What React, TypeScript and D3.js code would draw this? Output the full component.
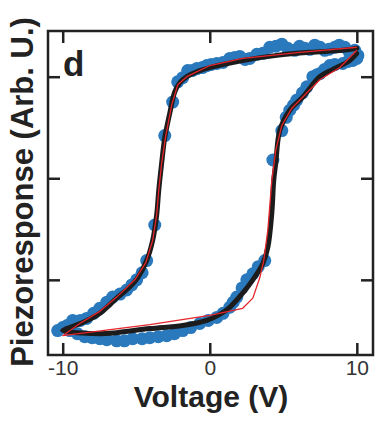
import React, { useEffect, useRef } from 'react';
import { select, scaleLinear, line, curveCatmullRom, curveLinear, axisBottom, axisTop, axisLeft, axisRight } from 'd3';

// fitted loop (black), descending then ascending branch
const fitVoltage = [10.0, 9.05, 6.8, 4.56, 2.24, 0, -0.68, -1.56, -2.04, -2.38, -2.72, -3.06, -3.27, -3.47, -3.61, -3.88, -4.29, -4.9, -5.44, -6.33, -7.48, -8.64, -9.73, -10,
  -7.48, -6.33, -4.08, -1.84, -0.2, 0.68, 1.36, 2.24, 2.93, 3.61, 3.95, 4.22, 4.35, 4.49, 4.76, 5.44, 6.33, 7.48, 8.64, 9.52, 10.0]
const fitResponse = [1.28, 1.26, 1.24, 1.21, 1.16, 1.09, 1.06, 1.0, 0.94, 0.85, 0.64, 0.4, 0.15, -0.12, -0.36, -0.61, -0.81, -0.98, -1.07, -1.18, -1.33, -1.42, -1.48, -1.5,
  -1.53, -1.52, -1.48, -1.45, -1.4, -1.34, -1.27, -1.13, -1.0, -0.84, -0.68, -0.34, -0.02, 0.15, 0.47, 0.67, 0.8, 1.0, 1.09, 1.16, 1.23]

// model loop (red)
const modelVoltage = [10.0, 6.12, 2.24, 0, -1.56, -2.18, -2.59, -2.99, -3.27, -3.47, -3.61, -3.88, -4.35, -5.1, -6.33, -7.48, -8.84, -10,
  -4.08, 0, 2.24, 2.93, 3.4, 3.67, 3.95, 4.22, 4.49, 4.9, 5.58, 6.46, 7.48, 8.84, 10.0]
const modelResponse = [1.29, 1.24, 1.18, 1.11, 1.0, 0.92, 0.72, 0.42, 0.15, -0.12, -0.36, -0.61, -0.83, -1.0, -1.17, -1.31, -1.43, -1.55,
  -1.44, -1.35, -1.28, -1.18, -0.98, -0.81, -0.51, -0.02, 0.28, 0.52, 0.69, 0.82, 0.97, 1.09, 1.26]

// measured points (blue)
const measVoltage = [10.07, 9.86, 9.5, 9.18, 8.8, 8.5, 8.1, 7.82, 7.5, 7.14, 6.8, 6.46, 6.1, 5.78, 5.3, 4.9, 4.5, 4.08, 3.61, 3.2, 2.72, 2.4, 2.04, 1.7, 1.36, 0.9, 0.48, 0.1, -0.2, -0.5, -0.88, -1.2, -1.5, -1.84, -2.18, -2.52, -3.06,
  -3.74, -4.29, -4.6, -4.97, -5.3, -5.65, -6.1, -6.6, -7.0, -7.48, -7.9, -8.37, -8.8, -9.32, -9.7, -10.0, -10.34,
  -9.52, -9.0, -8.5, -8.0, -7.48, -7.0, -6.33, -5.8, -5.24, -4.6, -4.08, -3.5, -2.93, -2.4, -1.84, -1.3, -0.68, -0.1, 0.48, 0.9, 1.36, 1.6, 1.84, 2.2, 2.52, 2.93, 3.3, 3.74,
  4.29, 4.9, 5.2, 5.44, 5.7, 5.92, 6.3, 6.6, 7.01, 7.3, 7.48, 7.8, 8.16, 8.5, 9.05, 9.4, 9.73, 10.0]
const measResponse = [1.21, 1.26, 1.24, 1.29, 1.31, 1.29, 1.27, 1.26, 1.29, 1.31, 1.27, 1.28, 1.3, 1.26, 1.28, 1.32, 1.3, 1.29, 1.23, 1.22, 1.18, 1.17, 1.2, 1.19, 1.18, 1.14, 1.13, 1.12, 1.11, 1.09, 1.08, 1.06, 1.06, 0.99, 0.95, 0.75, 0.42,
  -0.46, -0.81, -0.93, -1.0, -1.05, -1.1, -1.14, -1.17, -1.22, -1.28, -1.33, -1.38, -1.4, -1.4, -1.45, -1.47, -1.5,
  -1.5, -1.53, -1.56, -1.57, -1.58, -1.59, -1.6, -1.6, -1.58, -1.58, -1.57, -1.56, -1.55, -1.53, -1.5, -1.47, -1.43, -1.4, -1.37, -1.33, -1.27, -1.22, -1.17, -1.08, -1.0, -0.94, -0.87, -0.81,
  0.18, 0.47, 0.6, 0.67, 0.72, 0.77, 0.84, 0.9, 1.0, 1.02, 1.03, 1.07, 1.11, 1.12, 1.13, 1.15, 1.16, 1.18]

const xTicks = [-10, 0, 10]
const yTicks = [-1, 0, 1]

const dims = { width: 388, height: 422, left: 48, right: 373, top: 31, bottom: 355 }
const font = '"Liberation Sans", Arial, Helvetica, sans-serif'
const ink = '#222'

function App() {
  const axesRef = useRef<SVGGElement | null>(null)

  const x = scaleLinear().domain([-11, 11.1]).range([dims.left, dims.right])
  const y = scaleLinear().domain([-1.74, 1.45]).range([dims.bottom, dims.top])

  const pts = (vs: number[], rs: number[]) => vs.map((v, i) => [v, rs[i]] as [number, number])
  const fitLine = line<[number, number]>().x(d => x(d[0])).y(d => y(d[1])).curve(curveCatmullRom.alpha(0.5))
  const modelLine = line<[number, number]>().x(d => x(d[0])).y(d => y(d[1])).curve(curveLinear)

  useEffect(() => {
    const g = select(axesRef.current)
    g.selectAll('*').remove()
    const style = (a: any) => {
      a.select('.domain').remove()
      a.selectAll('line').attr('stroke', ink).attr('stroke-width', 2.5)
      a.selectAll('text').attr('font-family', font).attr('font-size', 21).attr('fill', '#333')
    }
    g.append('g').attr('transform', `translate(0,${dims.bottom})`)
      .call(axisBottom(x).tickValues(xTicks).tickSizeInner(-12).tickSizeOuter(0).tickPadding(5).tickFormat(d => `${d}`))
      .call(style)
    g.append('g').attr('transform', `translate(0,${dims.top})`)
      .call(axisTop(x).tickValues(xTicks).tickSizeInner(-12).tickSizeOuter(0).tickFormat(() => ''))
      .call(style)
    g.append('g').attr('transform', `translate(${dims.left},0)`)
      .call(axisLeft(y).tickValues(yTicks).tickSizeInner(-12).tickSizeOuter(0).tickFormat(() => ''))
      .call(style)
    g.append('g').attr('transform', `translate(${dims.right},0)`)
      .call(axisRight(y).tickValues(yTicks).tickSizeInner(-12).tickSizeOuter(0).tickFormat(() => ''))
      .call(style)
  }, [])

  return (
    <svg width={dims.width} height={dims.height} style={{ position: 'absolute', left: 0, top: 0, background: '#fff' }}>
      <g>
        {pts(measVoltage, measResponse).map((d, i) => (
          <circle key={i} cx={x(d[0])} cy={y(d[1])} r={6.5} fill="#2a79bd" />
        ))}
      </g>
      <path d={fitLine(pts(fitVoltage, fitResponse)) ?? ''} fill="none" stroke="#1c1c1c" strokeWidth={5} strokeLinejoin="round" strokeLinecap="round" />
      <path d={modelLine(pts(modelVoltage, modelResponse)) ?? ''} fill="none" stroke="#e5252b" strokeWidth={1.3} strokeLinejoin="round" />
      <rect x={dims.left} y={dims.top} width={dims.right - dims.left} height={dims.bottom - dims.top} fill="none" stroke={ink} strokeWidth={2.5} />
      <g ref={axesRef} />
      <text x={63} y={76} fontFamily={font} fontWeight="bold" fontSize={35} fill={ink}>d</text>
      <text x={211} y={407} textAnchor="middle" fontFamily={font} fontWeight="bold" fontSize={30} fill={ink}>Voltage (V)</text>
      <text transform="translate(33,192) rotate(-90)" textAnchor="middle" fontFamily={font} fontWeight="bold" fontSize={31} fill={ink}>Piezoresponse (Arb. U.)</text>
    </svg>
  )
}

export default App
